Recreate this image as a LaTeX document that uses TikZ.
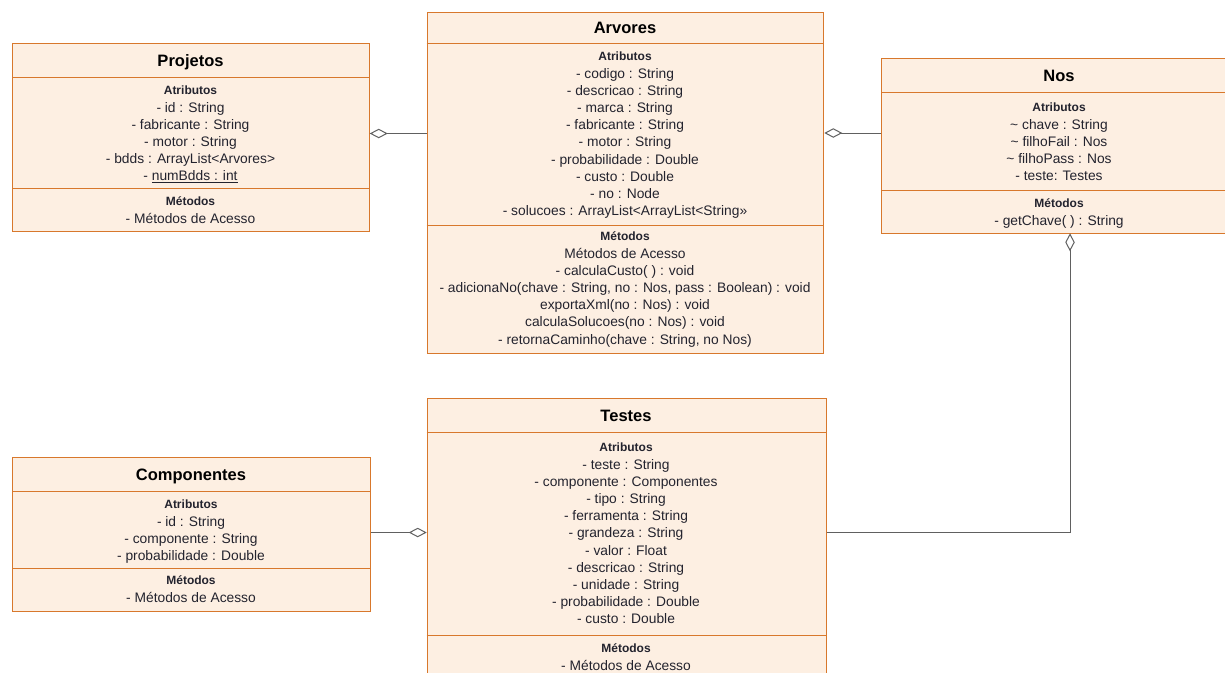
\documentclass[tikz,border=0pt]{standalone}
\usepackage{fontspec}
\setmainfont{Liberation Sans}
\usetikzlibrary{arrows.meta}

\definecolor{boxfill}{HTML}{FDEFE2}
\definecolor{boxline}{HTML}{D8782C}
\definecolor{rowink}{HTML}{23232E}
\definecolor{linkink}{HTML}{606060}

\tikzset{
  classbox/.style={draw=boxline, fill=boxfill, line width=1pt, inner sep=0pt, anchor=north west},
  sepline/.style={draw=boxline, line width=1pt},
  classtitle/.style={font=\fontsize{16.5}{18}\selectfont\bfseries, anchor=base, inner sep=0pt, text=black},
  rowtxt/.style={font=\fontsize{13.8}{16}\selectfont, anchor=base, inner sep=0pt, text=rowink},
  partlabel/.style={font=\fontsize{12}{14}\selectfont\bfseries, anchor=base, inner sep=0pt, text=rowink},
  agg/.style={draw=linkink, line width=1pt, -{Diamond[length=18pt, width=9.5pt, fill=white, line width=1pt]}}
}

% #1 node prefix, #2 centre x, #3 baseline of the label, #4 label, #5 rows
\newcommand\classpart[5]{%
  \node[partlabel] (#1-lbl) at (#2,#3) {#4};
  \foreach \txt [count=\k from 0] in {#5}
    \node[rowtxt] (#1-\k) at (#2,#3+17.8+\k*17.17) {\txt};
}

\begin{document}
\begin{tikzpicture}[x=1pt,y=-1pt]
\useasboundingbox (0,0) rectangle (1225,672);

% ---------- Projetos ----------
\node[classbox, minimum width=356.4pt, minimum height=187.7pt] (proj) at (12.3,43.3) {};
\draw[sepline] (proj.west |- 0,77.3) -- (proj.east |- 0,77.3);
\draw[sepline] (proj.west |- 0,188.3) -- (proj.east |- 0,188.3);
\node[classtitle] (proj-title) at (190.5,66) {Projetos};
\classpart{proj-at}{190.5}{94.5}{Atributos}{- id : String, - fabricante : String, - motor : String,
  - bdds : ArrayList<Arvores>, {- \underline{numBdds : int}}}
\classpart{proj-me}{190.5}{205.5}{Métodos}{- Métodos de Acesso}

% ---------- Arvores ----------
\node[classbox, minimum width=396.6pt, minimum height=340.7pt] (arv) at (426.7,12.3) {};
\draw[sepline] (arv.west |- 0,43) -- (arv.east |- 0,43);
\draw[sepline] (arv.west |- 0,225) -- (arv.east |- 0,225);
\node[classtitle] (arv-title) at (625,33.4) {Arvores};
\classpart{arv-at}{625}{60.5}{Atributos}{- codigo : String, - descricao : String, - marca : String,
  - fabricante : String, - motor : String, - probabilidade : Double, - custo : Double,
  - no : Node, - solucoes : ArrayList<ArrayList<String>>}
\classpart{arv-me}{625}{240.5}{Métodos}{Métodos de Acesso, - calculaCusto( ) : void,
  {- adicionaNo(chave : String, no : Nos, pass : Boolean) : void},
  exportaXml(no : Nos) : void, calculaSolucoes(no : Nos) : void,
  {- retornaCaminho(chave : String, no Nos)}}

% ---------- Nos ----------
\node[classbox, minimum width=356pt, minimum height=175pt] (nos) at (881,58.3) {};
\draw[sepline] (nos.west |- 0,92.3) -- (nos.east |- 0,92.3);
\draw[sepline] (nos.west |- 0,190.7) -- (nos.east |- 0,190.7);
\node[classtitle] (nos-title) at (1059,81) {Nos};
\classpart{nos-at}{1059}{111.2}{Atributos}{\textasciitilde{} chave : String,
  \textasciitilde{} filhoFail : Nos, \textasciitilde{} filhoPass : Nos, - teste: Testes}
\classpart{nos-me}{1059}{207.2}{Métodos}{- getChave( ) : String}

% ---------- Componentes ----------
\node[classbox, minimum width=358pt, minimum height=153.7pt] (comp) at (12.3,457.3) {};
\draw[sepline] (comp.west |- 0,491.7) -- (comp.east |- 0,491.7);
\draw[sepline] (comp.west |- 0,568) -- (comp.east |- 0,568);
\node[classtitle] (comp-title) at (191,480.3) {Componentes};
\classpart{comp-at}{191}{508.2}{Atributos}{- id : String, - componente : String,
  - probabilidade : Double}
\classpart{comp-me}{191}{584.5}{Métodos}{- Métodos de Acesso}

% ---------- Testes ----------
\node[classbox, minimum width=399pt, minimum height=300pt] (test) at (426.7,398.3) {};
\draw[sepline] (test.west |- 0,432.7) -- (test.east |- 0,432.7);
\draw[sepline] (test.west |- 0,635.7) -- (test.east |- 0,635.7);
\node[classtitle] (test-title) at (626,421.3) {Testes};
\classpart{test-at}{626}{451.5}{Atributos}{- teste : String, - componente : Componentes,
  - tipo : String, - ferramenta : String, - grandeza : String, - valor : Float,
  - descricao : String, - unidade : String, - probabilidade : Double, - custo : Double}
\classpart{test-me}{626}{652.2}{Métodos}{- Métodos de Acesso}

% ---------- aggregations ----------
\coordinate (nosB) at (1070,233.3);
\draw[agg] (arv.west |- 0,133.5) -- (proj.east |- 0,133.5);
\draw[agg] (nos.west |- 0,133) -- (arv.east |- 0,133);
\draw[agg] (comp.east |- 0,532.5) -- (test.west |- 0,532.5);
\draw[agg] (test.east |- 0,532) -| (nosB);
\end{tikzpicture}
\end{document}
